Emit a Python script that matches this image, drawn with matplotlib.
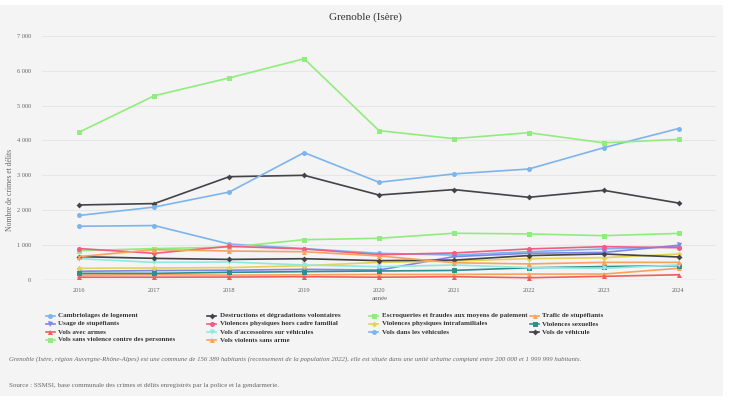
import matplotlib
matplotlib.use("Agg")
import matplotlib.pyplot as plt
from matplotlib.lines import Line2D
from matplotlib.patches import Rectangle

years = [2016, 2017, 2018, 2019, 2020, 2021, 2022, 2023, 2024]

cambriolages = [1540, 1560, 1030, 900, 765, 715, 810, 890, 955]
destructions = [2150, 2190, 2960, 3000, 2435, 2590, 2370, 2570, 2205]
escroqueries = [840, 900, 940, 1155, 1195, 1340, 1320, 1270, 1335]
trafic = [140, 150, 140, 150, 160, 160, 170, 170, 335]
usage = [250, 270, 280, 305, 285, 670, 765, 790, 995]
violences_hors = [900, 765, 965, 890, 725, 775, 890, 955, 925]
violences_intra = [335, 345, 355, 410, 505, 545, 610, 640, 745]
violences_sex = [190, 190, 220, 240, 258, 275, 350, 385, 410]
vols_armes = [80, 80, 85, 95, 80, 95, 65, 105, 150]
vols_accessoires = [610, 505, 515, 430, 380, 430, 355, 335, 430]
vols_vehicules_dans = [1850, 2090, 2520, 3650, 2800, 3040, 3180, 3790, 4340]
vols_vehicule = [670, 620, 590, 610, 555, 570, 700, 745, 660]
vols_sans_violence = [4240, 5280, 5790, 6340, 4280, 4050, 4220, 3930, 4030]
vols_violents = [670, 870, 830, 810, 690, 495, 460, 505, 505]

series_names = [
    "Cambriolages de logement",
    "Destructions et dégradations volontaires",
    "Escroqueries et fraudes aux moyens de paiement",
    "Trafic de stupéfiants",
    "Usage de stupéfiants",
    "Violences physiques hors cadre familial",
    "Violences physiques intrafamiliales",
    "Violences sexuelles",
    "Vols avec armes",
    "Vols d'accessoires sur véhicules",
    "Vols dans les véhicules",
    "Vols de véhicule",
    "Vols sans violence contre des personnes",
    "Vols violents sans arme",
]
series_values = [cambriolages, destructions, escroqueries, trafic, usage,
                 violences_hors, violences_intra, violences_sex, vols_armes,
                 vols_accessoires, vols_vehicules_dans, vols_vehicule,
                 vols_sans_violence, vols_violents]

colors = ["#7cb5ec", "#434348", "#90ed7d", "#f7a35c", "#8085e9",
          "#f15c80", "#e4d354", "#2b908f", "#f45b5b", "#91e8e1"]
markers = ["o", "D", "s", "^", "v"]

yticks = [0, 1000, 2000, 3000, 4000, 5000, 6000, 7000]
ytick_labels = ["0", "1 000", "2 000", "3 000", "4 000", "5 000", "6 000", "7 000"]

W, H = 730, 400
fig = plt.figure(figsize=(W / 100, H / 100), dpi=100, facecolor="white")

def fx(px):
    return px / W

def fy(py):
    return 1 - py / H

bg = Rectangle((0, fy(396)), fx(723), fy(5) - fy(396), transform=fig.transFigure,
               facecolor="#f4f4f4", edgecolor="none", zorder=-10)
fig.add_artist(bg)

serif = ["Liberation Serif", "DejaVu Serif"]

ax = fig.add_axes([fx(42), fy(280), fx(716) - fx(42), fy(35.7) - fy(280)])
ax.set_facecolor("#f4f4f4")
ax.set_xlim(2015.5, 2024.5)
ax.set_ylim(0, 7000)
for s in ax.spines.values():
    s.set_visible(False)
ax.set_yticks(yticks)
ax.set_yticklabels(ytick_labels, family=serif, fontsize=4.6, color="#666666")
ax.set_xticks(years)
ax.set_xticklabels([str(y) for y in years], family=serif, fontsize=4.6, color="#666666")
ax.tick_params(axis="both", length=0, pad=6)
ax.tick_params(axis="y", pad=8)
for t in yticks[1:]:
    ax.axhline(t, color="#e6e6e6", lw=0.8, zorder=0)
ax.axhline(0, color="#ccd6eb", lw=1.0, zorder=0)

for i, (name, vals) in enumerate(zip(series_names, series_values)):
    c = colors[i % 10]
    m = markers[i % 5]
    ms = 3.6 if m != "D" else 3.0
    ax.plot(years, vals, color=c, lw=1.2, marker=m, markersize=ms,
            markeredgewidth=0, zorder=3, clip_on=False)

fig.text(fx(380), fy(298), "année", family=serif, fontsize=5, color="#666666",
         ha="center", va="center")
fig.text(fx(10), fy(190), "Nombre de crimes et délits", family=serif, fontsize=5.5,
         color="#666666", rotation=90, ha="center", va="center")
fig.text(fx(365), fy(17), "Grenoble (Isère)", family=serif, fontsize=8,
         color="#333333", ha="center", va="center")

col_x = [46, 207, 369, 530]
row_y = [316, 324, 332, 340]
for i, name in enumerate(series_names):
    r, c = divmod(i, 4)
    x0, y0 = col_x[c], row_y[r]
    col = colors[i % 10]
    m = markers[i % 5]
    fig.add_artist(Line2D([fx(x0), fx(x0 + 9)], [fy(y0), fy(y0)], transform=fig.transFigure,
                          color=col, lw=1.2))
    fig.add_artist(Line2D([fx(x0 + 4.5)], [fy(y0)], transform=fig.transFigure,
                          color=col, marker=m, markersize=3.6 if m != "D" else 3.0,
                          markeredgewidth=0, lw=0))
    fig.text(fx(x0 + 12.5), fy(y0), name, family=serif, fontsize=5.0, fontweight="bold",
             color="#333333", ha="left", va="center")

fig.text(fx(9), fy(359),
         "Grenoble (Isère, région Auvergne-Rhône-Alpes) est une commune de 156 389 habitants "
         "(recensement de la population 2022), elle est située dans une unité urbaine comptant "
         "entre 200 000 et 1 999 999 habitants.",
         family=serif, fontsize=4.9, style="italic", color="#666666", ha="left", va="center")
fig.text(fx(9), fy(385),
         "Source : SSMSI, base communale des crimes et délits enregistrés par la police et la gendarmerie.",
         family=serif, fontsize=5.0, color="#666666", ha="left", va="center")

fig.savefig("out.png", dpi=100, facecolor="white")
